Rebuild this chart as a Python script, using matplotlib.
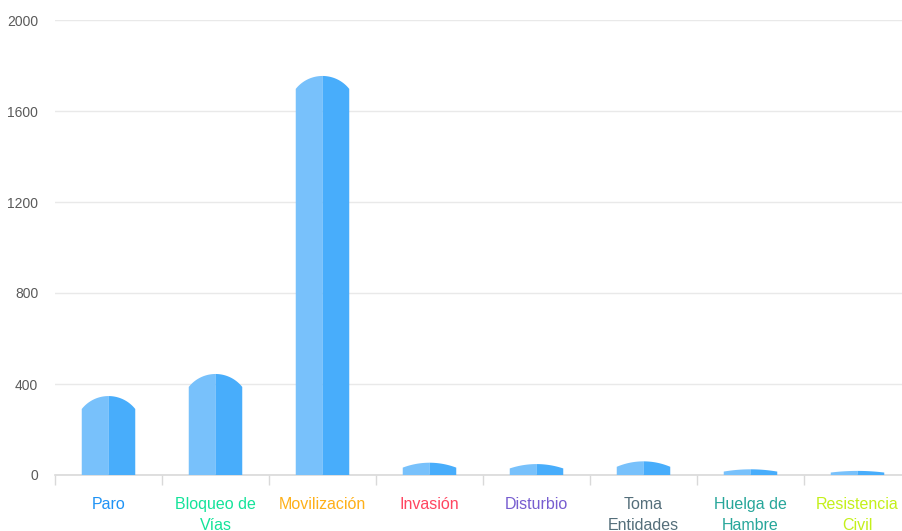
import numpy as np
import matplotlib
matplotlib.use('Agg')
import matplotlib.pyplot as plt
from matplotlib.patches import Polygon

# Data
categories = ['Paro', 'Bloqueo de\nVías', 'Movilización', 'Invasión', 'Disturbio',
              'Toma\nEntidades', 'Huelga de\nHambre', 'Resistencia\nCivil']
values = [347, 444, 1754, 54, 48, 60, 25, 18]
label_colors = ['#1f93f5', '#14e39a', '#feb019', '#ff4560', '#775dd0',
                '#546e7a', '#26a69a', '#c4f01a']
yticks = [0, 400, 800, 1200, 1600, 2000]

plt.rcParams['font.family'] = ['Liberation Sans', 'DejaVu Sans']

W, H = 902, 531
fig = plt.figure(figsize=(W / 100, H / 100), dpi=100)
# axes geometry in pixels
ax_left, ax_bottom, ax_w, ax_h = 55, 56, 856, 455
ax = fig.add_axes([ax_left / W, ax_bottom / H, ax_w / W, ax_h / H])

n = len(categories)
ax.set_xlim(-0.5, n - 0.5)
ax.set_ylim(0, 2000)

px_x = 1.0 / (ax_w / n)       # data units per pixel (x)
px_y = 2000.0 / ax_h          # data units per pixel (y)

bar_w = 0.5
light = '#78c1fb'
dark = '#48adfb'

for i, v in enumerate(values):
    cap = min(57, 0.4 * v)               # rounded top height (data)
    body = v - cap
    a = (bar_w / 2) / px_x               # half width in px
    h = cap / px_y                       # cap height in px
    R = (a ** 2 + h ** 2) / (2 * h)
    xs_px = np.linspace(-a, a, 60)
    ys_px = h - (R - np.sqrt(R ** 2 - xs_px ** 2))
    xs = i + xs_px * px_x
    ys = body + ys_px * px_y
    mid = len(xs) // 2
    # left half lighter, right half darker
    left_pts = [(i - bar_w / 2, 0)] + list(zip(xs[:mid], ys[:mid])) + [(i, v), (i, 0)]
    right_pts = [(i, 0), (i, v)] + list(zip(xs[mid:], ys[mid:])) + [(i + bar_w / 2, 0)]
    ax.add_patch(Polygon(left_pts, closed=True, facecolor=light, edgecolor='none', zorder=3))
    ax.add_patch(Polygon(right_pts, closed=True, facecolor=dark, edgecolor='none', zorder=3))

# grid and axes styling
for s in ['top', 'right', 'left']:
    ax.spines[s].set_visible(False)
ax.spines['bottom'].set_color('#d9d9d9')
ax.spines['bottom'].set_linewidth(1.2)
ax.set_yticks(yticks)
ax.set_yticklabels([str(t) for t in yticks], color='#5a5a5a', fontsize=10)
ax.tick_params(axis='y', length=0, pad=12)
ax.yaxis.grid(True, color='#e9e9e9', linewidth=1)
ax.set_axisbelow(True)

ax.set_xticks(range(n))
ax.set_xticklabels(categories, fontsize=11.5, linespacing=1.45)
ax.tick_params(axis='x', which='major', length=0, pad=16)
for lbl, c in zip(ax.get_xticklabels(), label_colors):
    lbl.set_color(c)
ax.set_xticks(np.arange(-0.5, n, 1.0), minor=True)
ax.tick_params(axis='x', which='minor', length=7, color='#d9d9d9', width=1)

fig.savefig('out.png', dpi=100)
